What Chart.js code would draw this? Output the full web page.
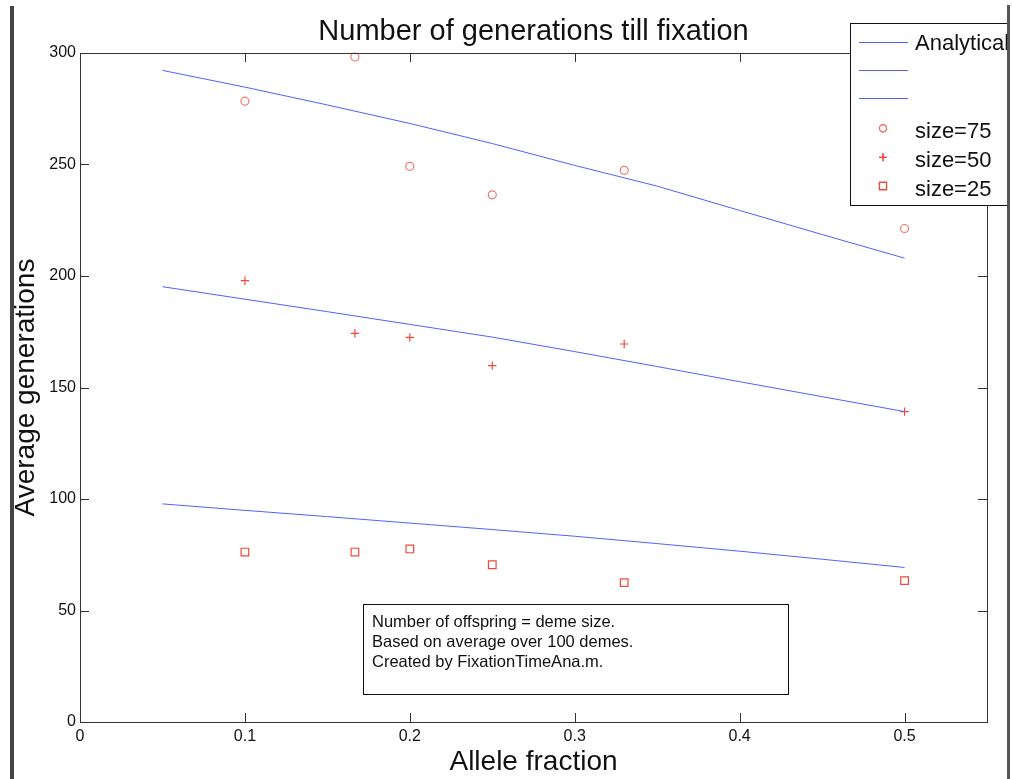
<html>
  <head>
    <script src="https://cdn.jsdelivr.net/npm/chart.js@4.4.0/dist/chart.umd.min.js"></script>
  </head>
  <body style="margin:0;background:#fff">
    <canvas id="chart" width="1012" height="779"></canvas>
    <script>
      // analytical curves
      const xAnalytic = [0.05, 0.1, 0.15, 0.2, 0.25, 0.3, 0.35, 0.4, 0.45, 0.5];
      const analytic75 = [292.2, 284.7, 276.7, 268.4, 259.4, 249.6, 240.3, 229.4, 218.6, 208.0];
      const analytic50 = [195.2, 189.6, 184.0, 178.3, 172.6, 166.1, 159.4, 152.6, 145.9, 139.2];
      const analytic25 = [97.8, 94.9, 92.1, 89.2, 86.3, 83.3, 80.0, 76.6, 73.0, 69.3];

      // simulated deme results
      const xSim = [0.1, 0.1667, 0.2, 0.25, 0.33, 0.5];
      const sim75 = [278.4, 298.2, 249.2, 236.4, 247.4, 221.3];
      const sim50 = [197.9, 174.3, 172.5, 159.8, 169.5, 139.2];
      const sim25 = [76.2, 76.2, 77.6, 70.5, 62.5, 63.4];

      const xTicks = [0, 0.1, 0.2, 0.3, 0.4, 0.5];
      const xTickLabels = ['0', '0.1', '0.2', '0.3', '0.4', '0.5'];
      const yTicks = [0, 50, 100, 150, 200, 250, 300];
      const yTickLabels = ['0', '50', '100', '150', '200', '250', '300'];

      const legendLabels = ['Analytical', '', '', 'size=75', 'size=50', 'size=25'];
      const noteLines = ['Number of offspring = deme size.', 'Based on average over 100 demes.', 'Created by FixationTimeAna.m.'];

      const FONT = '"Liberation Sans", Arial, Helvetica, sans-serif';
      const BLUE = '#4f62ff';
      const RED = '#ee4a3a';
      const PINK = '#ec7a70';

      function pts(xs, ys) {
        return xs.map(function(x, i) { return {x: x, y: ys[i]}; });
      }
      function lineSet(ys) {
        return {data: pts(xAnalytic, ys), showLine: true, borderColor: BLUE, borderWidth: 1,
                pointRadius: 0, fill: false, tension: 0, clip: false};
      }
      function markSet(ys, style, color, r) {
        return {data: pts(xSim, ys), showLine: false, pointStyle: style, pointRadius: r,
                pointBorderColor: color, pointBackgroundColor: 'rgba(0,0,0,0)', pointBorderWidth: 1.2, clip: false};
      }

      const decor = {
        id: 'decor',
        afterDraw(chart) {
          const ctx = chart.ctx;
          const a = chart.chartArea;
          const xs = chart.scales.x, ys = chart.scales.y;
          ctx.save();
          // axes box
          ctx.strokeStyle = '#333';
          ctx.lineWidth = 1;
          ctx.strokeRect(a.left + 0.5, a.top + 0.5, a.right - a.left, a.bottom - a.top);
          // inward ticks
          ctx.beginPath();
          xTicks.forEach(function(v) {
            const p = Math.round(xs.getPixelForValue(v)) + 0.5;
            ctx.moveTo(p, a.bottom); ctx.lineTo(p, a.bottom - 9);
            ctx.moveTo(p, a.top); ctx.lineTo(p, a.top + 9);
          });
          yTicks.forEach(function(v) {
            const p = Math.round(ys.getPixelForValue(v)) + 0.5;
            ctx.moveTo(a.left, p); ctx.lineTo(a.left + 9, p);
            ctx.moveTo(a.right, p); ctx.lineTo(a.right - 9, p);
          });
          ctx.stroke();

          // note box
          ctx.fillStyle = '#fff';
          ctx.fillRect(363, 604, 425, 90);
          ctx.strokeStyle = '#111';
          ctx.strokeRect(363.5, 604.5, 425, 90);
          ctx.fillStyle = '#111';
          ctx.font = '16.5px ' + FONT;
          ctx.textAlign = 'left';
          ctx.textBaseline = 'alphabetic';
          noteLines.forEach(function(t, i) { ctx.fillText(t, 372, 627 + i * 20); });

          // legend
          ctx.save();
          ctx.beginPath();
          ctx.rect(0, 0, 1007, 779);
          ctx.clip();
          ctx.fillStyle = '#fff';
          ctx.fillRect(850, 23, 170, 182);
          ctx.strokeStyle = '#111';
          ctx.strokeRect(850.5, 23.5, 170, 182);
          const rows = [41.7, 70, 98.3, 128.3, 157.3, 186];
          ctx.strokeStyle = BLUE;
          for (let i = 0; i < 3; i++) {
            ctx.beginPath();
            ctx.moveTo(859, Math.round(rows[i]) + 0.5);
            ctx.lineTo(908, Math.round(rows[i]) + 0.5);
            ctx.stroke();
          }
          const mk = chart.data.datasets.slice(3);
          const legR = [3.6, 4, 5];
          mk.forEach(function(d, i) {
            ctx.strokeStyle = d.pointBorderColor;
            ctx.lineWidth = 1.2;
            Chart.helpers.drawPoint(ctx, {pointStyle: d.pointStyle, radius: legR[i], borderWidth: 1.2, rotation: 0}, 883, rows[i + 3]);
            ctx.stroke();
          });
          ctx.fillStyle = '#111';
          ctx.font = '22px ' + FONT;
          const base = [50, 0, 0, 138.3, 167.3, 196];
          legendLabels.forEach(function(t, i) { if (t) ctx.fillText(t, 915, base[i]); });
          ctx.restore();

          // titles
          ctx.fillStyle = '#111';
          ctx.textAlign = 'center';
          ctx.font = '29px ' + FONT;
          ctx.fillText('Number of generations till fixation', (a.left + a.right) / 2, 40);
          ctx.font = '28px ' + FONT;
          ctx.fillText('Allele fraction', (a.left + a.right) / 2, 770);
          ctx.save();
          ctx.translate(34, (a.top + a.bottom) / 2);
          ctx.rotate(-Math.PI / 2);
          ctx.fillText('Average generations', 0, 0);
          ctx.restore();

          // figure frame edges
          ctx.fillStyle = '#444';
          ctx.fillRect(10, 6, 4, 773);
          ctx.fillStyle = '#555';
          ctx.fillRect(1007, 5, 3, 774);
          ctx.restore();
        }
      };

      new Chart('chart', {
        type: 'scatter',
        data: {
          datasets: [
            lineSet(analytic75), lineSet(analytic50), lineSet(analytic25),
            markSet(sim75, 'circle', PINK, 4),
            markSet(sim50, 'cross', RED, 4.2),
            markSet(sim25, 'rect', RED, 5.4)
          ]
        },
        options: {
          responsive: false,
          animation: false,
          devicePixelRatio: 1,
          layout: {padding: {left: 0, top: 53, right: 25, bottom: 0}},
          plugins: {legend: {display: false}, tooltip: {enabled: false}, title: {display: false}},
          scales: {
            x: {
              type: 'linear', min: 0, max: 0.55,
              grid: {display: false, drawTicks: false}, border: {display: false},
              afterBuildTicks: function(s) { s.ticks = xTicks.map(function(v) { return {value: v}; }); },
              afterFit: function(s) { s.height = 57; },
              ticks: {
                padding: 5, color: '#111', font: {family: FONT, size: 16}, maxRotation: 0,
                callback: function(v) { return xTickLabels[xTicks.indexOf(v)]; }
              }
            },
            y: {
              type: 'linear', min: 0, max: 300,
              grid: {display: false, drawTicks: false}, border: {display: false},
              afterBuildTicks: function(s) { s.ticks = yTicks.map(function(v) { return {value: v}; }); },
              afterFit: function(s) { s.width = 80; },
              ticks: {
                padding: 4, color: '#111', font: {family: FONT, size: 16},
                callback: function(v) { return yTickLabels[yTicks.indexOf(v)]; }
              }
            }
          }
        },
        plugins: [decor]
      });
    </script>
  </body>
</html>
